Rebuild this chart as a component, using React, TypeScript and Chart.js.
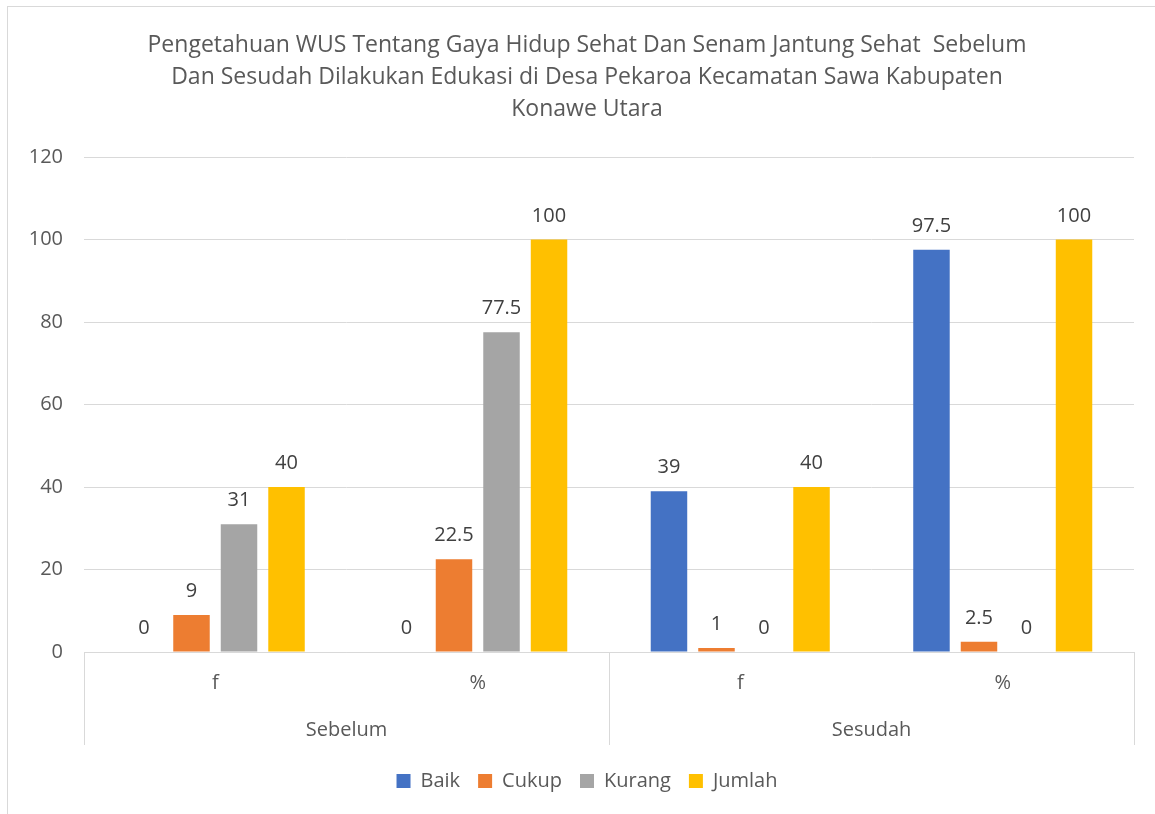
import React, { useEffect, useRef } from "react";
import { Chart, registerables } from "chart.js";

Chart.register(...registerables);

// ---- data ----
const categories = ["f", "%", "f", "%"];
const groups = ["Sebelum", "Sesudah"];
const groupSpan = [2, 2];
const seriesNames = ["Baik", "Cukup", "Kurang", "Jumlah"];
const baik = [0, 0, 39, 97.5];
const cukup = [9, 22.5, 1, 2.5];
const kurang = [31, 77.5, 0, 0];
const jumlah = [40, 100, 40, 100];
const seriesColors = ["#4472C4", "#ED7D31", "#A5A5A5", "#FFC000"];
const titleLines = [
  "Pengetahuan WUS Tentang Gaya Hidup Sehat Dan Senam Jantung Sehat  Sebelum",
  "Dan Sesudah Dilakukan Edukasi di Desa Pekaroa Kecamatan Sawa Kabupaten",
  "Konawe Utara",
];
const yMin = 0;
const yMax = 120;
const yStep = 20;

const FONT = "'Open Sans', 'Noto Sans', sans-serif";
const TEXT = "#595959";
const LABEL = "#404040";
const GRID = "#d9d9d9";

const framePlugin = {
  id: "frame",
  beforeDraw(chart: any) {
    const ctx = chart.ctx;
    ctx.save();
    ctx.fillStyle = "#ffffff";
    ctx.fillRect(0, 0, chart.width, chart.height);
    ctx.strokeStyle = GRID;
    ctx.lineWidth = 1;
    ctx.strokeRect(7.5, 6.5, chart.width + 50, chart.height + 50);
    ctx.restore();
  },
};

// centre title and legend on the frame rather than on the padded canvas
const shiftPlugin = {
  id: "shiftBoxes",
  afterLayout(chart: any) {
    const dx = 20;
    [chart.titleBlock, chart.legend].forEach((b: any) => {
      if (b) {
        b.left += dx;
        b.right += dx;
      }
    });
  },
};

const groupAxisPlugin = {
  id: "groupAxis",
  afterDraw(chart: any) {
    const ctx = chart.ctx;
    const x = chart.scales.x;
    const area = chart.chartArea;
    const catW = (area.right - area.left) / categories.length;
    const bottom = area.bottom + 93;
    ctx.save();
    ctx.strokeStyle = GRID;
    ctx.lineWidth = 1;
    let idx = 0;
    const bounds: number[] = [];
    groups.forEach((g, gi) => {
      const first = idx;
      const last = idx + groupSpan[gi] - 1;
      const l = x.getPixelForValue(first) - catW / 2;
      const r = x.getPixelForValue(last) + catW / 2;
      bounds.push(l, r);
      ctx.fillStyle = TEXT;
      ctx.font = `20px ${FONT}`;
      ctx.textAlign = "center";
      ctx.textBaseline = "middle";
      ctx.fillText(g, (l + r) / 2, area.bottom + 78);
      idx += groupSpan[gi];
    });
    const uniq = Array.from(new Set(bounds.map((b) => Math.round(b))));
    uniq.forEach((b) => {
      const px = Math.round(b) + 0.5;
      ctx.beginPath();
      ctx.moveTo(px, area.bottom);
      ctx.lineTo(px, bottom);
      ctx.stroke();
    });
    ctx.restore();
  },
};

const dataLabelPlugin = {
  id: "dataLabels",
  afterDatasetsDraw(chart: any) {
    const ctx = chart.ctx;
    ctx.save();
    ctx.fillStyle = LABEL;
    ctx.font = `20px ${FONT}`;
    ctx.textAlign = "center";
    ctx.textBaseline = "alphabetic";
    chart.data.datasets.forEach((ds: any, di: number) => {
      const meta = chart.getDatasetMeta(di);
      meta.data.forEach((el: any, i: number) => {
        const v = ds.data[i];
        ctx.fillText(String(v), el.x, el.y - 18);
      });
    });
    ctx.restore();
  },
};

export default function App() {
  const ref = useRef<HTMLCanvasElement | null>(null);
  useEffect(() => {
    if (!ref.current) return;
    Chart.defaults.font.family = FONT;
    const values = [baik, cukup, kurang, jumlah];
    const chart = new Chart(ref.current, {
      type: "bar",
      data: {
        labels: categories,
        datasets: seriesNames.map((name, i) => ({
          label: name,
          data: values[i],
          backgroundColor: seriesColors[i],
          borderWidth: 0,
          categoryPercentage: 0.724,
          barPercentage: 0.768,
        })),
      },
      options: {
        responsive: false,
        animation: false,
        layout: { padding: { left: 0, right: 21, top: 0, bottom: 13 } },
        plugins: {
          title: {
            display: true,
            text: titleLines,
            color: TEXT,
            font: { family: FONT, size: 23, weight: "normal", lineHeight: 32 / 23 },
            padding: { top: 29, bottom: 32 },
          },
          legend: {
            display: true,
            position: "bottom",
            labels: {
              boxWidth: 14,
              boxHeight: 14,
              padding: 18,
              color: TEXT,
              font: { family: FONT, size: 20 },
            },
          },
          tooltip: { enabled: false },
        },
        scales: {
          x: {
            grid: { display: false, drawTicks: false },
            border: { display: true, color: GRID },
            ticks: { color: TEXT, font: { family: FONT, size: 20 }, padding: 19 },
            afterFit(scale: any) {
              scale.height = 101;
            },
          },
          y: {
            min: yMin,
            max: yMax,
            ticks: { stepSize: yStep, color: TEXT, font: { family: FONT, size: 20 }, padding: 21 },
            grid: { color: GRID, lineWidth: 1, drawTicks: false },
            border: { display: false },
            afterFit(scale: any) {
              scale.width = 84;
            },
          },
        },
      },
      plugins: [framePlugin, shiftPlugin, groupAxisPlugin, dataLabelPlugin],
    } as any);
    return () => chart.destroy();
  }, []);
  return (
    <div style={{ position: "absolute", left: 0, top: 0, width: 1155, height: 814, background: "#fff" }}>
      <canvas ref={ref} width={1155} height={814} />
    </div>
  );
}
